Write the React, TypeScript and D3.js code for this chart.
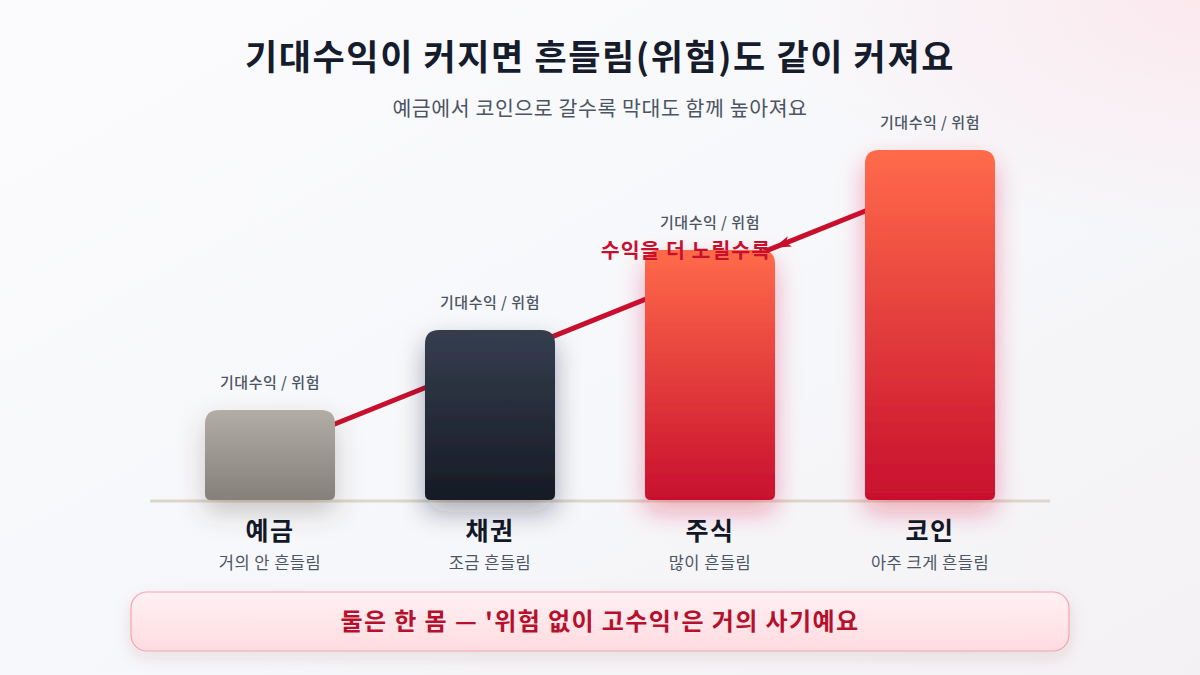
import * as d3 from "d3";

const categories = ["예금", "채권", "주식", "코인"];
const subLabels = ["거의 안 흔들림", "조금 흔들림", "많이 흔들림", "아주 크게 흔들림"];
const riskValues = [18, 34, 50, 70];
const trendValues = [10, 63];
const valueLabel = "기대수익 / 위험";

const barColors = [
  ["#b2ada5", "#85807a", "rgba(80,70,60,0.28)"],
  ["#353e4e", "#161b26", "rgba(20,30,50,0.35)"],
  ["#ff6b4a", "#c8102e", "rgba(220,30,60,0.35)"],
  ["#ff6b4a", "#c8102e", "rgba(220,30,60,0.35)"],
];

const W = 1200;
const H = 675;
const FONT = "'Noto Sans CJK KR', 'Noto Sans', sans-serif";

function barPath(x: number, y: number, w: number, h: number, rt: number, rb: number) {
  const p = d3.path();
  p.moveTo(x + rt, y);
  p.lineTo(x + w - rt, y);
  p.quadraticCurveTo(x + w, y, x + w, y + rt);
  p.lineTo(x + w, y + h - rb);
  p.quadraticCurveTo(x + w, y + h, x + w - rb, y + h);
  p.lineTo(x + rb, y + h);
  p.quadraticCurveTo(x, y + h, x, y + h - rb);
  p.lineTo(x, y + rt);
  p.quadraticCurveTo(x, y, x + rt, y);
  p.closePath();
  return p.toString();
}

export default function App() {
  const x = d3
    .scaleBand()
    .domain(categories)
    .range([150, 1050])
    .paddingInner(0.409)
    .paddingOuter(0.25);
  const y = d3.scaleLinear().domain([0, 70]).range([500, 150]);
  const bw = x.bandwidth();

  const cx0 = x(categories[0])! + bw / 2;
  const cx1 = x(categories[categories.length - 1])! + bw / 2;
  const lineY = d3.scaleLinear().domain([cx0, cx1]).range([y(trendValues[0]), y(trendValues[1])]);

  // arrowhead on the trend line, pointing back toward the note
  const tipX = 774;
  const tipY = lineY(tipX);
  const slope = (lineY(cx1) - lineY(cx0)) / (cx1 - cx0);
  const ux = 1 / Math.sqrt(1 + slope * slope);
  const uy = slope * ux;
  const len = 17;
  const hw = 5.5;
  const bx = tipX + ux * len;
  const by = tipY + uy * len;
  const arrow = [
    [tipX, tipY],
    [bx - uy * hw, by + ux * hw],
    [bx - ux * 4, by - uy * 4],
    [bx + uy * hw, by - ux * hw],
  ]
    .map((d) => d.join(","))
    .join(" ");

  return (
    <svg width={W} height={H} style={{ position: "absolute", left: 0, top: 0 }} fontFamily={FONT}>
      <defs>
        <linearGradient id="bg" x1="0" y1="0" x2="1" y2="1">
          <stop offset="0" stopColor="#fbfbfd" />
          <stop offset="0.6" stopColor="#f6f7fa" />
          <stop offset="1" stopColor="#f4f1f4" />
        </linearGradient>
        <radialGradient id="glow" cx="1" cy="0" r="0.35">
          <stop offset="0" stopColor="#fbe9ee" />
          <stop offset="1" stopColor="#fbe9ee" stopOpacity="0" />
        </radialGradient>
        <linearGradient id="callout" x1="0" y1="0" x2="0" y2="1">
          <stop offset="0" stopColor="#fff1f3" />
          <stop offset="1" stopColor="#ffdbe1" />
        </linearGradient>
        <filter id="calloutShadow" x="-10%" y="-50%" width="120%" height="200%">
          <feDropShadow dx="0" dy="6" stdDeviation="8" floodColor="rgba(120,40,60,0.12)" />
        </filter>
        {barColors.map((c, i) => (
          <linearGradient key={i} id={`bar${i}`} x1="0" y1="0" x2="0" y2="1">
            <stop offset="0" stopColor={c[0]} />
            <stop offset="1" stopColor={c[1]} />
          </linearGradient>
        ))}
        {barColors.map((c, i) => (
          <filter
            key={i}
            id={`sh${i}`}
            filterUnits="userSpaceOnUse"
            x={0}
            y={0}
            width={W}
            height={H}
          >
            <feDropShadow dx="0" dy="12" stdDeviation="13" floodColor={c[2]} />
          </filter>
        ))}
      </defs>

      <rect width={W} height={H} fill="url(#bg)" />
      <rect width={W} height={H} fill="url(#glow)" />

      <text x={600} y={70} textAnchor="middle" fontSize={35} letterSpacing={1.6} fontWeight={700} fill="#151c2c">
        기대수익이 커지면 흔들림(위험)도 같이 커져요
      </text>
      <text x={600} y={116} textAnchor="middle" fontSize={20.5} letterSpacing={0.6} fill="#4b5563">
        예금에서 코인으로 갈수록 막대도 함께 높아져요
      </text>

      {/* trend line behind bars */}
      <line
        x1={cx0}
        y1={lineY(cx0)}
        x2={cx1}
        y2={lineY(cx1)}
        stroke="#c8102e"
        strokeWidth={5}
        strokeLinecap="round"
      />

      <line x1={150} x2={1050} y1={y(0) + 1} y2={y(0) + 1} stroke="#ddd6ca" strokeWidth={3} />

      {categories.map((c, i) => {
        const bx0 = x(c)!;
        const top = y(riskValues[i]);
        return (
          <g key={c}>
            <path
              d={barPath(bx0, top, bw, y(0) - top, 14, 6)}
              fill={`url(#bar${i})`}
              filter={`url(#sh${i})`}
            />
            <text
              x={bx0 + bw / 2}
              y={top - 22}
              textAnchor="middle"
              fontSize={15}
              letterSpacing={0.5}
              fontWeight={500}
              fill="#4b5563"
            >
              {valueLabel}
            </text>
            <text x={bx0 + bw / 2} y={540} textAnchor="middle" fontSize={25} letterSpacing={1.5} fontWeight={700} fill="#111827">
              {c}
            </text>
            <text x={bx0 + bw / 2} y={569} textAnchor="middle" fontSize={16.5} letterSpacing={0.5} fill="#4b5563">
              {subLabels[i]}
            </text>
          </g>
        );
      })}

      <text x={771} y={258} textAnchor="end" fontSize={20.5} letterSpacing={1} fontWeight={700} fill="#c8102e">
        수익을 더 노릴수록
      </text>
      <polygon points={arrow} fill="#c8102e" />

      <rect
        x={131}
        y={592}
        width={938}
        height={59}
        rx={16}
        fill="url(#callout)"
        stroke="#f3a3ae"
        strokeWidth={1.2}
        filter="url(#calloutShadow)"
      />
      <text x={600} y={630} textAnchor="middle" fontSize={24} letterSpacing={1.4} fontWeight={700} fill="#b5102c">
        둘은 한 몸 — '위험 없이 고수익'은 거의 사기예요
      </text>
    </svg>
  );
}
